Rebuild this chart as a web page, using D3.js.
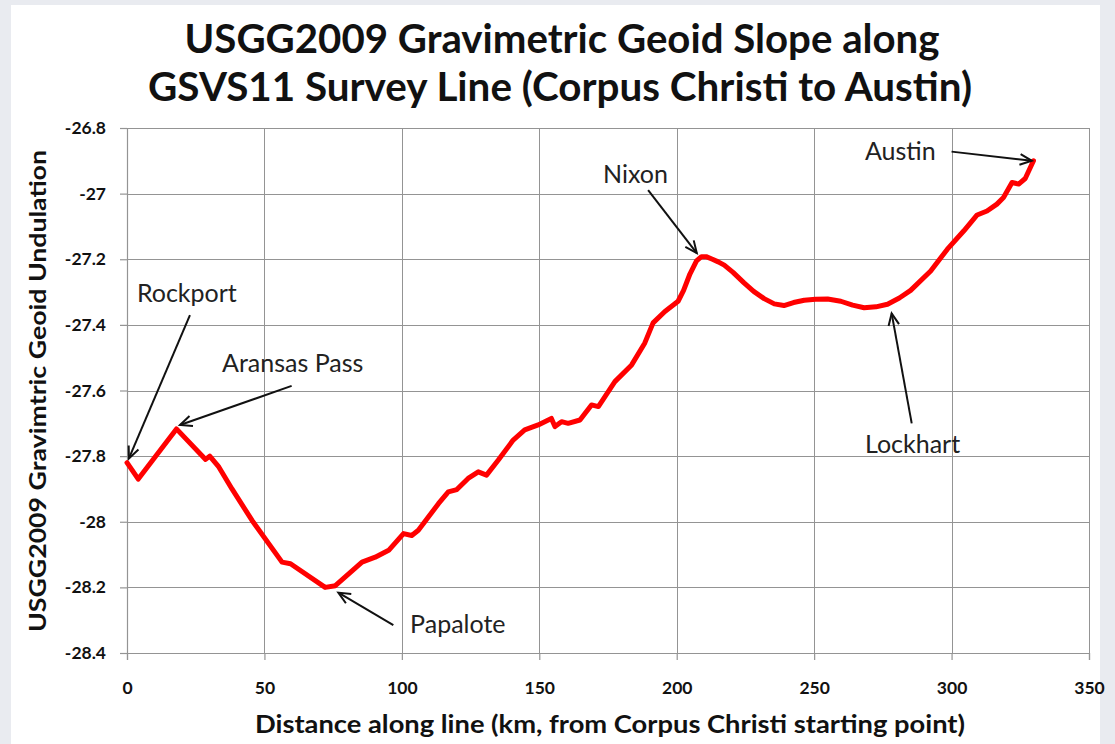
<!DOCTYPE html>
<html>
<head>
<meta charset="utf-8">
<script src="https://cdn.jsdelivr.net/npm/d3@7"></script>
<style>
  html, body { margin: 0; padding: 0; background: #e9ebf0; }
  svg { display: block; }
</style>
</head>
<body>
<svg id="chart" width="1115" height="744"></svg>
<script>
// Distance along the GSVS11 line (km) and USGG2009 geoid undulation (m)
const distanceKm = [
  0, 4.1, 18.0, 28.6, 30.1, 33.4, 38.2, 45.5, 56.4, 59.5,
  72.1, 75.8, 85.5, 90.3, 95.2, 100.6, 103.6, 106, 113.3, 116.9,
  120, 124.1, 127.8, 130.8, 135.1, 140.5, 144.7, 149.6, 154.4, 155.7,
  158.1, 160.5, 164.8, 169, 171.5, 177.5, 183.6, 188.4, 191.4, 195.7,
  200.5, 202.5, 204.8, 207.2, 209.0, 210.7, 213.0, 215.1, 217.3, 220.5,
  224.5, 228.0, 231.8, 235.5, 239, 242.5, 246.4, 250.5, 254.9, 259.7,
  264.0, 268.2, 272.5, 276.7, 281.0, 285.1, 292.4, 298.4, 304.4, 309.3,
  312.9, 316.5, 318.9, 322, 324.4, 326.8, 329.8
];
const undulation = [
  -27.82, -27.87, -27.717, -27.81, -27.80, -27.833, -27.90, -27.996, -28.123, -28.128,
  -28.20, -28.195, -28.123, -28.108, -28.087, -28.036, -28.042, -28.026, -27.945, -27.909,
  -27.902, -27.868, -27.848, -27.858, -27.812, -27.751, -27.72, -27.705, -27.685, -27.71,
  -27.695, -27.70, -27.69, -27.644, -27.649, -27.573, -27.522, -27.455, -27.394, -27.359,
  -27.328, -27.295, -27.245, -27.205, -27.192, -27.192, -27.200, -27.208, -27.218, -27.240,
  -27.272, -27.298, -27.320, -27.336, -27.341, -27.332, -27.325, -27.322, -27.321, -27.328,
  -27.340, -27.348, -27.345, -27.337, -27.318, -27.295, -27.236, -27.17, -27.114, -27.065,
  -27.053, -27.032, -27.012, -26.966, -26.971, -26.954, -26.90
];

const xTicks = [0, 50, 100, 150, 200, 250, 300, 350];
const yTicks = [-26.8, -27, -27.2, -27.4, -27.6, -27.8, -28, -28.2, -28.4];

// Named benchmarks: arrow tip, arrow tail and label anchor in data units
const placeNames = ["Rockport", "Aransas Pass", "Papalote", "Nixon", "Lockhart", "Austin"];
const tipKm   = [0.7, 19.3, 76.9, 207.3, 278.2, 329.2];
const tipVal  = [-27.807, -27.705, -28.216, -27.181, -27.365, -26.90];
const tailKm  = [22.9, 59.9, 96.9, 189.6, 285.5, 300.0];
const tailVal = [-27.37, -27.586, -28.315, -26.989, -27.70, -26.872];
const labelKm  = [3.6, 34.6, 103.0, 173.2, 268.5, 268.5];
const labelVal = [-27.33, -27.544, -28.339, -26.968, -27.79, -26.898];

const titleLines = [
  "USGG2009 Gravimetric Geoid Slope along",
  "GSVS11 Survey Line (Corpus Christi to Austin)"
];
const xTitle = "Distance along line (km, from Corpus Christi starting point)";
const yTitle = "USGG2009 Gravimtric Geoid Undulation";

const svg = d3.select("#chart");
const plot = { left: 127, right: 1089, top: 128, bottom: 653 };
const gridColor = "#949494";
const font = "Lato, 'Open Sans', sans-serif";

// White slide panel
svg.append("rect").attr("x", 11).attr("y", 5).attr("width", 1089).attr("height", 739).attr("fill", "#ffffff");

const x = d3.scaleLinear().domain([0, 350]).range([plot.left, plot.right]);
const y = d3.scaleLinear().domain([-28.4, -26.8]).range([plot.bottom, plot.top]);

// Gridlines
const grid = svg.append("g").attr("stroke", gridColor).attr("stroke-width", 1.2).attr("shape-rendering", "crispEdges");
grid.selectAll("line.h").data(yTicks).join("line")
  .attr("x1", plot.left).attr("x2", plot.right)
  .attr("y1", d => Math.round(y(d)) + 0.5).attr("y2", d => Math.round(y(d)) + 0.5);
grid.selectAll("line.v").data(xTicks).join("line")
  .attr("y1", plot.top).attr("y2", plot.bottom)
  .attr("x1", d => Math.round(x(d)) + 0.5).attr("x2", d => Math.round(x(d)) + 0.5);

// Axes
const fmt = d => String(+d.toFixed(1));
const yAxis = svg.append("g").attr("transform", `translate(${plot.left},0)`)
  .call(d3.axisLeft(y).tickValues(yTicks).tickFormat(fmt).tickSizeOuter(0).tickSize(7).tickPadding(14));
const xAxis = svg.append("g").attr("transform", `translate(0,${plot.bottom})`)
  .call(d3.axisBottom(x).tickValues(xTicks).tickFormat(fmt).tickSizeOuter(0).tickSize(7).tickPadding(22));
[yAxis, xAxis].forEach(g => {
  g.select(".domain").attr("stroke", gridColor).attr("stroke-width", 1.2);
  g.selectAll(".tick line").attr("stroke", gridColor).attr("stroke-width", 1.2);
  g.selectAll(".tick text").attr("fill", "#111").attr("font-family", font)
    .attr("font-weight", "bold").attr("font-size", 17.5);
});

// Profile line
const pts = distanceKm.map((d, i) => [d, undulation[i]]);
svg.append("path")
  .datum(pts)
  .attr("fill", "none")
  .attr("stroke", "#ff0000")
  .attr("stroke-width", 5)
  .attr("stroke-linejoin", "round")
  .attr("stroke-linecap", "round")
  .attr("d", d3.line().x(d => x(d[0])).y(d => y(d[1])));

// Annotation arrows and labels
const ann = svg.append("g");
placeNames.forEach((name, i) => {
  const x1 = x(tailKm[i]), y1 = y(tailVal[i]);
  const x2 = x(tipKm[i]), y2 = y(tipVal[i]);
  const ang = Math.atan2(y2 - y1, x2 - x1);
  const head = 13, spread = 0.42;
  ann.append("line")
    .attr("x1", x1).attr("y1", y1).attr("x2", x2).attr("y2", y2)
    .attr("stroke", "#111").attr("stroke-width", 2);
  ann.append("path")
    .attr("d", `M${x2 - head * Math.cos(ang - spread)},${y2 - head * Math.sin(ang - spread)}` +
               `L${x2},${y2}` +
               `L${x2 - head * Math.cos(ang + spread)},${y2 - head * Math.sin(ang + spread)}`)
    .attr("fill", "none").attr("stroke", "#111").attr("stroke-width", 2)
    .attr("stroke-linejoin", "miter");
  ann.append("text")
    .attr("x", x(labelKm[i])).attr("y", y(labelVal[i]))
    .attr("font-family", font).attr("font-size", 25).attr("fill", "#222")
    .text(name);
});

// Titles
const titleWidths = [755, 824];
const titleCenters = [562, 560];
const titleBaselines = [53, 101];
titleLines.forEach((t, i) => {
  svg.append("text")
    .attr("x", titleCenters[i]).attr("y", titleBaselines[i])
    .attr("text-anchor", "middle")
    .attr("font-family", font).attr("font-weight", "bold").attr("font-size", 40)
    .attr("fill", "#111")
    .attr("textLength", titleWidths[i]).attr("lengthAdjust", "spacingAndGlyphs")
    .text(t);
});

svg.append("text")
  .attr("x", 610).attr("y", 733)
  .attr("text-anchor", "middle")
  .attr("font-family", font).attr("font-weight", "bold").attr("font-size", 24)
  .attr("fill", "#111")
  .attr("textLength", 710).attr("lengthAdjust", "spacingAndGlyphs")
  .text(xTitle);

svg.append("text")
  .attr("transform", "translate(46,391) rotate(-90)")
  .attr("text-anchor", "middle")
  .attr("font-family", font).attr("font-weight", "bold").attr("font-size", 22)
  .attr("fill", "#111")
  .attr("textLength", 482).attr("lengthAdjust", "spacingAndGlyphs")
  .text(yTitle);
</script>
</body>
</html>
